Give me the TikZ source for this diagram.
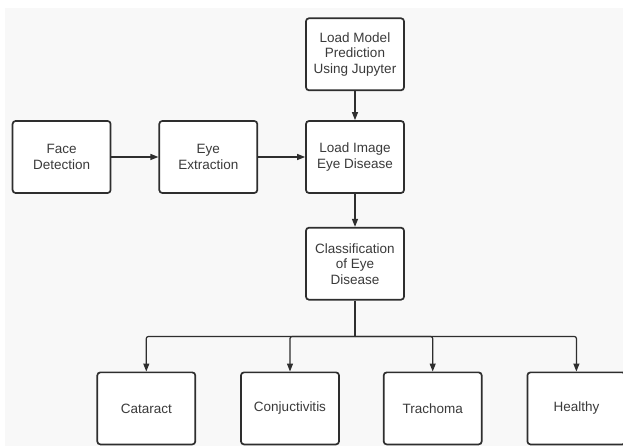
\documentclass[tikz,border=0pt]{standalone}
\usepackage{fontspec}
\setmainfont{Liberation Sans}
\usepackage{xcolor}
\usepackage{tikz}
\usetikzlibrary{arrows.meta, positioning, calc}

\definecolor{inkgray}{HTML}{2E2E2E}
\definecolor{textgray}{HTML}{3A3A3A}
\definecolor{paper}{HTML}{F8F8F8}

\begin{document}
\begin{tikzpicture}[
    node distance=47pt,
    box/.style={rectangle, draw=inkgray, line width=1.7pt, rounded corners=3pt, fill=white,
        minimum width=98pt, minimum height=72pt, align=center, text=textgray,
        font={\fontsize{13.5}{15.5}\selectfont}},
    arr/.style={-{Triangle[length=8pt, width=6pt]}, draw=inkgray, line width=1.2pt},
]
    % page and background
    \useasboundingbox (-355pt,157pt) rectangle (268pt,-289pt);
    \fill[paper] (-350pt,149pt) rectangle (268pt,-289pt);

    % Central step
    \node[box] (loadimg) {Load Image\\Eye Disease};

    % Top
    \node[box, above=29pt of loadimg] (loadmodel) {Load Model\\Prediction\\Using Jupyter};

    % Left chain
    \node[box, left=47pt of loadimg] (eyeext) {Eye\\Extraction};
    \node[box, left=47pt of eyeext] (facedet) {Face\\Detection};

    % Classification
    \node[box, below=33pt of loadimg] (classif) {Classification\\of Eye\\Disease};

    % Classes (bottom row)
    \node[box, below=71pt of classif, xshift=-65pt] (conj) {Conjuctivitis};
    \node[box, left=44pt of conj] (cataract) {Cataract};
    \node[box, right=43pt of conj] (trachoma) {Trachoma};
    \node[box, right=44pt of trachoma] (healthy) {Healthy};

    % Arrows
    \draw[arr] (facedet) -- (eyeext);
    \draw[arr] (eyeext) -- (loadimg);
    \draw[arr] (loadmodel) -- (loadimg);
    \draw[arr] (loadimg) -- (classif);

    % Branch to classes
    \coordinate (bus) at ($(classif.south)+(0,-36pt)$);
    \draw[inkgray, line width=1.2pt] (classif.south) -- (bus);
    \foreach \cls in {cataract, conj, trachoma, healthy}
        \draw[arr, rounded corners=2pt] (bus) -| (\cls.north);
\end{tikzpicture}
\end{document}
